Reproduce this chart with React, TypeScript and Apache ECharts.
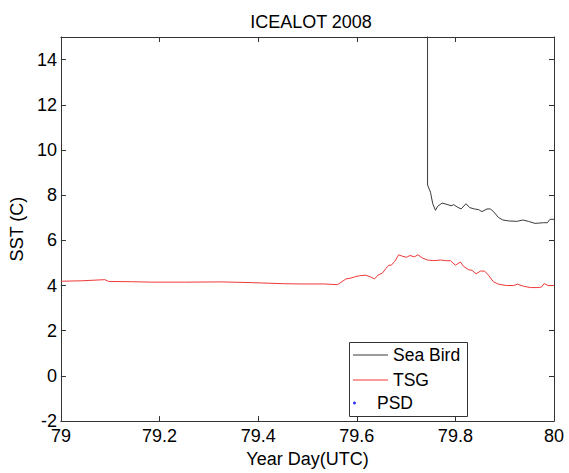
import React, { useEffect, useRef } from "react";
import * as echarts from "echarts";

const titleText = "ICEALOT 2008";
const xName = "Year Day(UTC)";
const yName = "SST (C)";
const seriesNames = ["Sea Bird", "TSG", "PSD"];

const seaBirdX = [79.7434, 79.7436, 79.7495, 79.7541, 79.7596, 79.7642, 79.7731, 79.7832, 79.7913, 79.7966, 79.8034, 79.8115, 79.8216, 79.8289, 79.8384, 79.8471, 79.8539, 79.864, 79.8707, 79.8774, 79.8875, 79.8964, 79.9077, 79.9246, 79.9368, 79.9481, 79.9616, 79.9784, 79.9865, 79.9919, 80.0];
const seaBirdY = [25, 8.45, 8.13, 7.62, 7.33, 7.51, 7.65, 7.59, 7.53, 7.58, 7.48, 7.39, 7.62, 7.45, 7.39, 7.36, 7.27, 7.39, 7.39, 7.27, 7.01, 6.9, 6.86, 6.84, 6.9, 6.84, 6.75, 6.78, 6.78, 6.93, 6.93];

const tsgX = [79.0, 79.042, 79.089, 79.097, 79.143, 79.184, 79.251, 79.325, 79.386, 79.453, 79.487, 79.533, 79.561, 79.578, 79.588, 79.595, 79.605, 79.618, 79.628, 79.636, 79.643, 79.652, 79.659, 79.665, 79.67, 79.677, 79.685, 79.692, 79.701, 79.708, 79.717, 79.724, 79.733, 79.743, 79.756, 79.77, 79.78, 79.79, 79.8, 79.81, 79.817, 79.827, 79.834, 79.842, 79.851, 79.859, 79.867, 79.877, 79.887, 79.904, 79.918, 79.926, 79.938, 79.952, 79.968, 79.975, 79.98, 79.988, 80.0];
const tsgY = [4.19, 4.21, 4.26, 4.18, 4.17, 4.15, 4.15, 4.16, 4.13, 4.08, 4.07, 4.07, 4.04, 4.29, 4.33, 4.38, 4.43, 4.46, 4.38, 4.29, 4.46, 4.55, 4.75, 4.9, 4.9, 5.07, 5.36, 5.3, 5.25, 5.33, 5.27, 5.36, 5.22, 5.13, 5.1, 5.13, 5.1, 5.1, 4.9, 5.04, 4.84, 4.7, 4.67, 4.52, 4.64, 4.64, 4.46, 4.17, 4.06, 4.0, 4.0, 4.06, 3.97, 3.91, 3.91, 3.94, 4.09, 4.0, 4.0];

const psdX: number[] = [];
const psdY: number[] = [];

const xMin = 79;
const xMax = 80;
const xInterval = 0.2;
const yMin = -2;
const yMax = 15;
const yInterval = 2;

const FONT = "'Liberation Sans', Arial, Helvetica, sans-serif";
const FS = 18;
const LFS = 17.5;
const AXIS_COLOR = "#333";
const SEABIRD_COLOR = "#3a3a3a";
const TSG_COLOR = "#f03838";

export default function App() {
  const ref = useRef<HTMLDivElement>(null);
  useEffect(() => {
    if (!ref.current) return;
    const chart = echarts.init(ref.current, undefined, { renderer: "svg" });
    const zip = (xs: number[], ys: number[]) => xs.map((x, i) => [x, ys[i]]);
    const axisCommon = {
      axisLine: { show: true, onZero: false, lineStyle: { color: AXIS_COLOR, width: 1 } },
      axisTick: { show: true, inside: true, length: 5, lineStyle: { color: AXIS_COLOR, width: 1 } },
      splitLine: { show: false },
    };
    const legendCommon = {
      orient: "horizontal",
      left: 353,
      padding: 0,
      itemGap: 0,
      itemWidth: 35,
      itemHeight: 1,
      selectedMode: false,
      textStyle: { fontSize: LFS, fontFamily: FONT, color: "#000", lineHeight: 18 },
      itemStyle: { borderWidth: 0 },
    };
    chart.setOption({
      animation: false,
      backgroundColor: "#fff",
      title: {
        text: titleText,
        left: 306,
        textAlign: "center",
        top: 8,
        textStyle: { fontSize: FS, fontWeight: "normal", fontFamily: FONT, color: "#000" },
      },
      grid: { left: 59, right: 15, top: 37, bottom: 45 },
      xAxis: [
        {
          type: "value",
          min: xMin,
          max: xMax,
          interval: xInterval,
          position: "bottom",
          name: xName,
          nameLocation: "middle",
          nameGap: 23,
          nameTextStyle: { fontSize: FS, fontFamily: FONT, color: "#000" },
          axisLabel: { fontSize: FS, fontFamily: FONT, color: "#000", margin: 6 },
          ...axisCommon,
        },
        {
          type: "value",
          min: xMin,
          max: xMax,
          interval: xInterval,
          position: "top",
          axisLabel: { show: false },
          ...axisCommon,
        },
      ],
      yAxis: [
        {
          type: "value",
          min: yMin,
          max: yMax,
          interval: yInterval,
          position: "left",
          name: yName,
          nameLocation: "middle",
          nameGap: 28,
          nameTextStyle: { fontSize: FS, fontFamily: FONT, color: "#000" },
          axisLabel: { fontSize: FS, fontFamily: FONT, color: "#000", margin: 4, showMaxLabel: false },
          ...axisCommon,
        },
        {
          type: "value",
          min: yMin,
          max: yMax,
          interval: yInterval,
          position: "right",
          axisLabel: { show: false },
          ...axisCommon,
        },
      ],
      graphic: [
        {
          type: "rect",
          z: 3,
          shape: { x: 349.5, y: 342.5, width: 118, height: 74 },
          style: { fill: "#fff", stroke: AXIS_COLOR, lineWidth: 1 },
        },
      ],
      legend: [
        { ...legendCommon, top: 346, data: [{ name: seriesNames[0], icon: "rect" }] },
        { ...legendCommon, top: 371, data: [{ name: seriesNames[1], icon: "rect" }] },
        { ...legendCommon, top: 394, itemHeight: 3, data: [{ name: seriesNames[2], icon: "circle" }] },
      ],
      series: [
        {
          name: seriesNames[0],
          type: "line",
          data: zip(seaBirdX, seaBirdY),
          symbol: "none",
          showSymbol: false,
          clip: true,
          silent: true,
          color: SEABIRD_COLOR,
          itemStyle: { color: SEABIRD_COLOR },
          lineStyle: { color: SEABIRD_COLOR, width: 1 },
        },
        {
          name: seriesNames[1],
          type: "line",
          data: zip(tsgX, tsgY),
          symbol: "none",
          showSymbol: false,
          clip: true,
          silent: true,
          color: TSG_COLOR,
          itemStyle: { color: TSG_COLOR },
          lineStyle: { color: TSG_COLOR, width: 1 },
        },
        {
          name: seriesNames[2],
          type: "scatter",
          data: zip(psdX, psdY),
          symbol: "circle",
          symbolSize: 3,
          silent: true,
          color: "#0000ff",
          itemStyle: { color: "#0000ff" },
        },
      ],
    });
    return () => chart.dispose();
  }, []);
  return <div ref={ref} style={{ width: 569, height: 473, position: "absolute", left: 0, top: 0 }} />;
}
